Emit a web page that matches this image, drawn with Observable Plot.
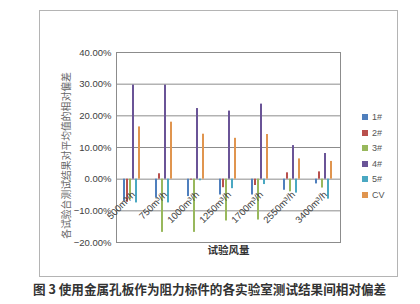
<!DOCTYPE html>
<html>
<head>
<meta charset="utf-8">
<script src="https://cdn.jsdelivr.net/npm/d3@7"></script>
<script src="https://cdn.jsdelivr.net/npm/@observablehq/plot@0.6"></script>
<style>
  html, body { margin: 0; padding: 0; background: #fff; }
  #wrap { position: relative; width: 420px; height: 304px; overflow: hidden; font-family: "Liberation Sans", Arial, sans-serif; }
  #box { position: absolute; left: 39px; top: 10px; width: 357px; height: 265px; border: 1px solid #b4b4b4; }
  #chart { position: absolute; left: 0; top: 0; }
  #legend { position: absolute; left: 362px; top: 110px; font-size: 9px; color: #555; line-height: 15.5px; }
  #legend .sw { display: inline-block; width: 6px; height: 6px; margin-right: 4px; vertical-align: 0px; }
  #caption { position: absolute; left: 33px; top: 279px; font-family: "Noto Sans CJK SC", sans-serif; font-size: 12.6px; font-weight: bold; color: #333; white-space: nowrap; }
</style>
</head>
<body>
<div id="wrap">
  <div id="box"></div>
  <div id="chart"></div>
  <div id="legend"></div>
  <div id="caption">图 3 使用金属孔板作为阻力标件的各实验室测试结果间相对偏差</div>
</div>
<script>
// Airflow test points
const flows = ["500m³/h", "750m³/h", "1000m³/h", "1250m³/h", "1700m³/h", "2550m³/h", "3400m³/h"];
// Laboratories plus coefficient of variation
const series = ["1#", "2#", "3#", "4#", "5#", "CV"];
const colors = ["#4f7fbd", "#b9504d", "#98b85c", "#6a5497", "#4aa8c2", "#e0954f"];

// Relative deviation from the mean, per airflow
const lab1 = [-0.070, -0.060, -0.055, -0.050, -0.050, -0.035, -0.015];
const lab2 = [-0.073, 0.017, -0.003, -0.027, -0.020, 0.020, 0.023];
const lab3 = [-0.065, -0.168, -0.168, -0.132, -0.129, -0.040, -0.028];
const lab4 = [0.297, 0.297, 0.223, 0.215, 0.237, 0.106, 0.081];
const lab5 = [-0.075, -0.075, -0.005, -0.030, -0.017, -0.044, -0.063];
const cv = [0.165, 0.180, 0.142, 0.129, 0.141, 0.064, 0.056];

const yTicks = [-0.2, -0.1, 0, 0.1, 0.2, 0.3, 0.4];

const columns = [lab1, lab2, lab3, lab4, lab5, cv];
const rows = flows.flatMap((flow, i) =>
  series.map((s, j) => ({flow, series: s, value: columns[j][i]}))
);

const chart = Plot.plot({
  width: 420,
  height: 276,
  marginLeft: 113,
  marginRight: 78,
  marginTop: 52,
  marginBottom: 34,
  style: {fontFamily: "Liberation Sans, Arial, sans-serif", fontSize: "9.5px", color: "#404040", background: "transparent"},
  fx: {domain: flows, axis: null, paddingInner: 0, paddingOuter: 0},
  x: {domain: series, axis: null, paddingInner: 0.22, paddingOuter: 1.55},
  y: {domain: [-0.2, 0.4], axis: null},
  color: {domain: series, range: colors},
  marks: [
    Plot.gridY(yTicks, {stroke: "#8c8c8c", strokeOpacity: 1, strokeWidth: 1}),
    Plot.frame({facet: "super", stroke: "#8c8c8c"}),
    Plot.barY(rows, {fx: "flow", x: "series", y: "value", fill: "series"}),
    Plot.axisY(yTicks, {
      tickFormat: d3.format(".2%"),
      tickSize: 0,
      tickPadding: 5,
      label: null
    }),
    Plot.text(["各试验台测试结果对平均值的相对偏差"], {
      facet: "super",
      frameAnchor: "left",
      textAnchor: "middle",
      rotate: -90,
      dx: -50,
      dy: 8,
      fontFamily: "Noto Sans CJK SC, sans-serif",
      fontWeight: "normal",
      fontSize: 9.8,
      fill: "#666"
    }),
    Plot.text(flows, {
      fx: d => d,
      y: () => 0,
      text: d => d,
      rotate: -45,
      textAnchor: "end",
      dx: 1,
      dy: 14,
      fontSize: 9.5,
      fill: "#404040"
    }),
    Plot.text(["试验风量"], {
      facet: "super",
      frameAnchor: "bottom",
      dy: 11,
      fontFamily: "Noto Sans CJK SC, sans-serif",
      fontWeight: "bold",
      fontSize: 10.5,
      fill: "#333"
    })
  ]
});
document.getElementById("chart").append(chart);

const legend = d3.select("#legend");
series.forEach((s, i) => {
  const item = legend.append("div");
  item.append("span").attr("class", "sw").style("background", colors[i]);
  item.append("span").text(s);
});
</script>
</body>
</html>
